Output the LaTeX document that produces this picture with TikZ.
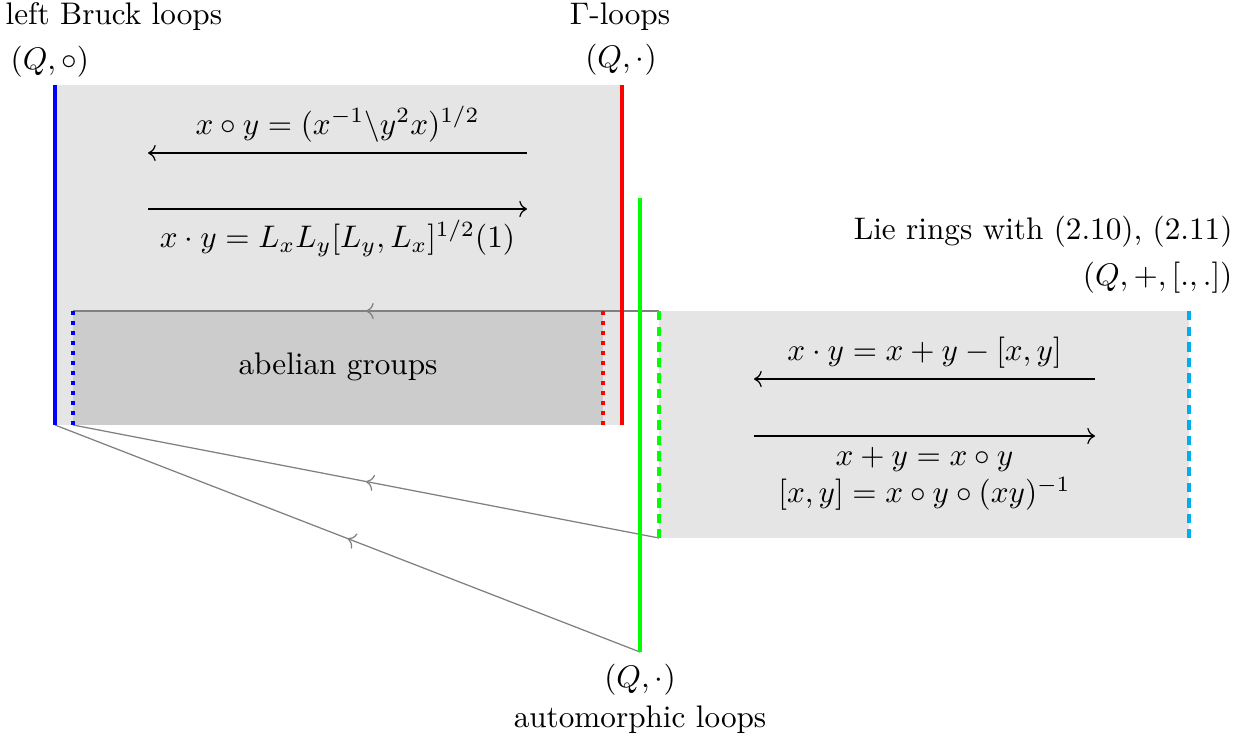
\documentclass[tikz,border=0pt]{standalone}
\usetikzlibrary{decorations.markings,arrows.meta}
\definecolor{lightfill}{gray}{0.9}
\definecolor{darkfill}{gray}{0.8}
\definecolor{mycyan}{RGB}{0,174,239}
\definecolor{mygreen}{RGB}{0,255,0}
\begin{document}
\begin{tikzpicture}[x=0.3205pt,y=-0.3205pt,
  border/.style={line width=1.2pt},
  dotborder/.style={line width=1.2pt, dotted},
  dashborder/.style={line width=1.2pt, densely dashed},
  link/.style={gray, postaction={decorate}, decoration={markings, mark=at position 0.5 with {\arrow{Computer Modern Rightarrow}}}},
  lab/.style={inner sep=0pt},
  conv/.style={-{Computer Modern Rightarrow}}]
\useasboundingbox (0,0) rectangle (1247,742);
% regions
\fill[lightfill] (55,85) rectangle (622,425);
\fill[darkfill] (73,311) rectangle (603,425);
\fill[lightfill] (659,311) rectangle (1189,538);
% end points
\coordinate (bT) at (55,85);   \coordinate (bB) at (55,425);
\coordinate (rT) at (622,85);  \coordinate (rB) at (622,425);
\coordinate (gT) at (640,198); \coordinate (gB) at (640,652);
\coordinate (bdT) at (73,311); \coordinate (bdB) at (73,425);
\coordinate (rdT) at (603,311); \coordinate (rdB) at (603,425);
\coordinate (gdT) at (659,311); \coordinate (gdB) at (659,538);
\coordinate (cdT) at (1189,311); \coordinate (cdB) at (1189,538);
% gray links
\draw[link] (gdT) -- (bdT);
\draw[link] (gdB) -- (bdB);
\draw[link] (gB) -- (bB);
% borders
\draw[border, blue] (bT) -- (bB);
\draw[border, red] (rT) -- (rB);
\draw[border, mygreen] (gT) -- (gB);
\draw[dotborder, blue] (bdT) -- (bdB);
\draw[dotborder, red] (rdT) -- (rdB);
\draw[dashborder, mygreen] (gdT) -- (gdB);
\draw[dashborder, mycyan] (cdT) -- (cdB);
% conversions
\coordinate (a1s) at (527,153); \coordinate (a1e) at (148,153);
\coordinate (a2s) at (148,209); \coordinate (a2e) at (527,209);
\coordinate (a3s) at (1095,379); \coordinate (a3e) at (754,379);
\coordinate (a4s) at (754,436); \coordinate (a4e) at (1095,436);
\draw[conv] (a1s) -- (a1e) node[midway, above] (t1) {$x\circ y=(x^{-1}\backslash y^2x)^{1/2}$};
\draw[conv] (a2s) -- (a2e) node[midway, below] (t2) {$x\cdot y=L_xL_y[L_y,L_x]^{1/2}(1)$};
\draw[conv] (a3s) -- (a3e) node[midway, above] (t3) {$x\cdot y=x+y-[x,y]$};
\draw[conv] (a4s) -- (a4e) node[midway, below, align=center] (t4) {$x+y=x\circ y$\\$[x,y]=x\circ y\circ(xy)^{-1}$};
% labels
\node (ab) at (338,367) {abelian groups};
\node[lab, anchor=west] (lb1) at (5,17) {left Bruck loops};
\node[lab, anchor=west] (lb2) at (10,62) {$(Q,\circ)$};
\node[lab] (gl1) at (620,17) {$\Gamma$-loops};
\node[lab] (gl2) at (621,60) {$(Q,\cdot)$};
\node[lab, anchor=east] (lr1) at (1233,232) {Lie rings with (2.10), (2.11)};
\node[lab, anchor=east] (lr2) at (1233,278) {$(Q,+,[.,.])$};
\node[lab] (al1) at (640,680) {$(Q,\cdot)$};
\node[lab] (al2) at (640,720) {automorphic loops};
\end{tikzpicture}
\end{document}
